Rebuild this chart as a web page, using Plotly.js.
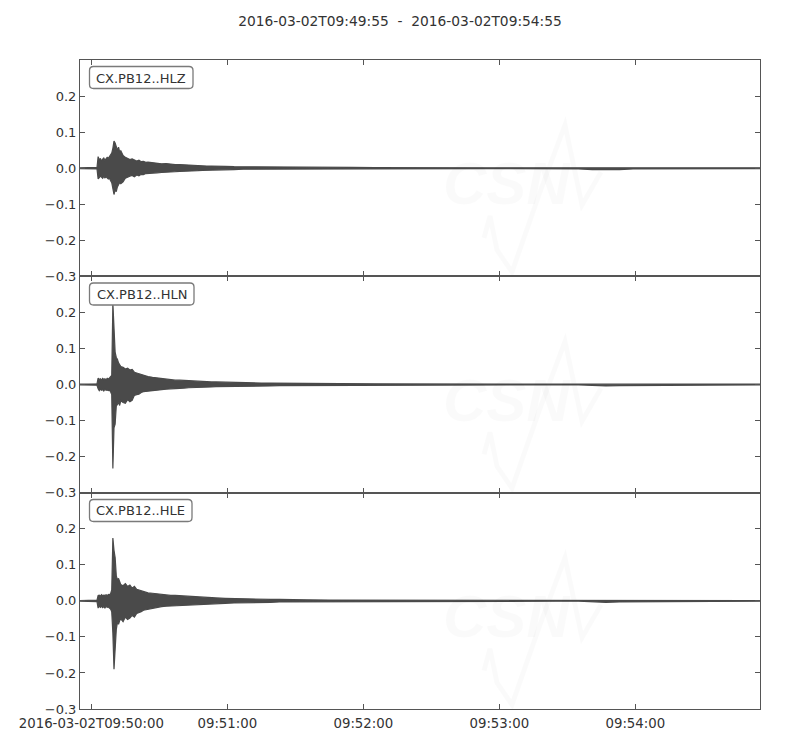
<!DOCTYPE html>
<html>
<head>
<meta charset="utf-8">
<script src="https://cdn.plot.ly/plotly-3.0.1.min.js"></script>
<style>html,body{margin:0;padding:0;background:#fff;}#chart{width:800px;height:750px;}</style>
</head>
<body>
<div id="chart"></div>
<script>
// Trace start time: 2016-03-02T09:49:55 (UTC); sample times in seconds from start
const startLabel = '2016-03-02T09:49:55';
const endLabel = '2016-03-02T09:54:55';
const stations = ['CX.PB12..HLZ', 'CX.PB12..HLN', 'CX.PB12..HLE'];

const secs = [0, 7.5, 8, 8.5, 9, 9.5, 10, 10.5, 11, 11.5, 12, 12.5, 13, 13.5, 14, 14.5, 15, 15.5, 16, 16.5, 17, 17.5, 18,
  19, 20, 21, 22, 23, 24, 25, 26, 27, 28, 29, 30,
  32, 34, 36, 38, 40, 42, 44, 46, 48, 50, 52, 54, 56, 58, 60,
  64, 68, 72, 76, 80, 84, 88, 92, 96, 100,
  110, 120, 130, 140, 150, 160, 170, 180, 190, 200, 210,
  220, 226, 232, 238, 244, 250, 260, 300];

// HLZ envelope (upper / lower peaks)
const hlzUp = [0.001, 0.002, 0.032, 0.022, 0.027, 0.020, 0.025, 0.028, 0.022, 0.026, 0.030, 0.027, 0.033, 0.038, 0.042, 0.055, 0.075, 0.070, 0.062, 0.050, 0.058, 0.045, 0.048,
  0.035, 0.030, 0.028, 0.024, 0.026, 0.022, 0.020, 0.022, 0.018, 0.019, 0.016, 0.017,
  0.015, 0.014, 0.012, 0.013, 0.011, 0.010, 0.010, 0.009, 0.008, 0.008, 0.007, 0.007, 0.006, 0.006, 0.005,
  0.005, 0.004, 0.004, 0.003, 0.003, 0.003, 0.003, 0.002, 0.002, 0.002,
  0.002, 0.002, 0.0015, 0.001, 0.001, 0.001, 0.001, 0.001, 0.001, 0.001, 0.001,
  0.001, 0.002, 0.002, 0.002, 0.001, 0.001, 0.001, 0.001];
const hlzLo = [-0.001, -0.002, -0.030, -0.026, -0.022, -0.025, -0.028, -0.022, -0.027, -0.024, -0.026, -0.030, -0.028, -0.035, -0.040, -0.050, -0.073, -0.060, -0.065, -0.052, -0.045, -0.040, -0.043,
  -0.038, -0.028, -0.026, -0.022, -0.020, -0.024, -0.019, -0.021, -0.017, -0.018, -0.015, -0.016,
  -0.014, -0.013, -0.012, -0.011, -0.010, -0.010, -0.009, -0.008, -0.008, -0.007, -0.007, -0.006, -0.006, -0.005, -0.005,
  -0.004, -0.004, -0.003, -0.003, -0.003, -0.003, -0.002, -0.002, -0.002, -0.002,
  -0.002, -0.0015, -0.001, -0.001, -0.001, -0.001, -0.001, -0.001, -0.001, -0.001, -0.001,
  -0.002, -0.004, -0.005, -0.004, -0.002, -0.001, -0.001, -0.001];

// HLN envelope
const hlnUp = [0.001, 0.002, 0.018, 0.014, 0.016, 0.012, 0.017, 0.014, 0.016, 0.013, 0.017, 0.015, 0.018, 0.022, 0.025, 0.225, 0.130, 0.090, 0.075, 0.070, 0.060, 0.055, 0.050,
  0.048, 0.043, 0.045, 0.040, 0.042, 0.034, 0.032, 0.030, 0.026, 0.025, 0.024, 0.022,
  0.020, 0.018, 0.017, 0.015, 0.014, 0.012, 0.012, 0.011, 0.010, 0.010, 0.009, 0.009, 0.008, 0.007, 0.007,
  0.006, 0.006, 0.005, 0.005, 0.004, 0.004, 0.004, 0.003, 0.003, 0.003,
  0.002, 0.002, 0.002, 0.0015, 0.001, 0.001, 0.001, 0.001, 0.001, 0.001, 0.001,
  0.001, 0.002, 0.002, 0.003, 0.002, 0.001, 0.001, 0.001];
const hlnLo = [-0.001, -0.002, -0.012, -0.017, -0.013, -0.016, -0.014, -0.018, -0.013, -0.016, -0.015, -0.017, -0.016, -0.020, -0.028, -0.233, -0.120, -0.110, -0.060, -0.055, -0.050, -0.058, -0.045,
  -0.050, -0.052, -0.042, -0.048, -0.044, -0.030, -0.028, -0.027, -0.022, -0.020, -0.019, -0.018,
  -0.017, -0.015, -0.014, -0.013, -0.012, -0.011, -0.010, -0.010, -0.009, -0.008, -0.008, -0.008, -0.007, -0.007, -0.006,
  -0.006, -0.005, -0.005, -0.004, -0.004, -0.004, -0.003, -0.003, -0.003, -0.003,
  -0.002, -0.002, -0.0015, -0.001, -0.001, -0.001, -0.001, -0.001, -0.001, -0.001, -0.001,
  -0.001, -0.002, -0.004, -0.003, -0.002, -0.001, -0.001, -0.001];

// HLE envelope
const hleUp = [0.001, 0.002, 0.015, 0.016, 0.013, 0.017, 0.014, 0.016, 0.015, 0.017, 0.014, 0.018, 0.017, 0.020, 0.030, 0.174, 0.140, 0.120, 0.070, 0.058, 0.062, 0.050, 0.045,
  0.042, 0.048, 0.040, 0.044, 0.035, 0.040, 0.032, 0.030, 0.028, 0.025, 0.024, 0.022,
  0.021, 0.019, 0.018, 0.016, 0.015, 0.015, 0.014, 0.013, 0.012, 0.011, 0.010, 0.010, 0.009, 0.009, 0.008,
  0.007, 0.006, 0.006, 0.005, 0.005, 0.004, 0.004, 0.003, 0.003, 0.003,
  0.002, 0.002, 0.002, 0.0015, 0.001, 0.001, 0.001, 0.001, 0.001, 0.001, 0.001,
  0.001, 0.002, 0.002, 0.003, 0.002, 0.001, 0.001, 0.001];
const hleLo = [-0.001, -0.002, -0.020, -0.014, -0.018, -0.015, -0.019, -0.016, -0.020, -0.015, -0.018, -0.017, -0.020, -0.023, -0.030, -0.090, -0.190, -0.155, -0.080, -0.060, -0.065, -0.055, -0.050,
  -0.058, -0.045, -0.052, -0.048, -0.040, -0.045, -0.035, -0.032, -0.030, -0.026, -0.024, -0.022,
  -0.020, -0.018, -0.016, -0.015, -0.014, -0.013, -0.013, -0.012, -0.011, -0.010, -0.010, -0.009, -0.009, -0.008, -0.008,
  -0.007, -0.006, -0.005, -0.005, -0.004, -0.004, -0.003, -0.003, -0.003, -0.002,
  -0.002, -0.002, -0.0015, -0.001, -0.001, -0.001, -0.001, -0.001, -0.001, -0.001, -0.001,
  -0.001, -0.002, -0.004, -0.003, -0.002, -0.001, -0.001, -0.001];

const tickSecs = [5, 65, 125, 185, 245];
const tickLabels = ['2016-03-02T09:50:00', '09:51:00', '09:52:00', '09:53:00', '09:54:00'];
const yTickVals = [-0.3, -0.2, -0.1, 0.0, 0.1, 0.2];
const yTickText = ['\u22120.3', '\u22120.2', '\u22120.1', '0.0', '0.1', '0.2'];

const base = Date.UTC(2016, 2, 2, 9, 49, 55);
const toMs = s => base + s * 1000;
const wave = '#4a4a4a';
const font = 'DejaVu Sans, sans-serif';

const env = [[hlzUp, hlzLo], [hlnUp, hlnLo], [hleUp, hleLo]];
const data = env.map((pair, i) => ({
  type: 'scatter', mode: 'lines',
  x: secs.concat(secs.slice().reverse()).map(toMs),
  y: pair[0].concat(pair[1].slice().reverse()),
  fill: 'toself', fillcolor: wave,
  line: {color: wave, width: 1.2},
  xaxis: i === 0 ? 'x' : 'x' + (i + 1),
  yaxis: i === 0 ? 'y' : 'y' + (i + 1),
  hoverinfo: 'skip', showlegend: false
}));

// pixel helpers for panel decorations (plot area 80..760 x 60..709)
const L = 80, R = 760, T = 60, B = 709;
const PH = (B - T) / 3;
const px = p => (p - L) / (R - L);
const py = p => (B - p) / (B - T);

function roundRect(x0, y0, x1, y1, r) {
  const P = (a, b) => px(a) + ',' + py(b);
  return 'M' + P(x0 + r, y0) + ' L' + P(x1 - r, y0) + ' Q' + P(x1, y0) + ' ' + P(x1, y0 + r) +
    ' L' + P(x1, y1 - r) + ' Q' + P(x1, y1) + ' ' + P(x1 - r, y1) +
    ' L' + P(x0 + r, y1) + ' Q' + P(x0, y1) + ' ' + P(x0, y1 - r) +
    ' L' + P(x0, y0 + r) + ' Q' + P(x0, y0) + ' ' + P(x0 + r, y0) + ' Z';
}

const shapes = [];
const annotations = [];
const boxes = [[89.5, 66.5, 193, 88.5], [89.5, 283, 194, 305], [89.5, 499.5, 192, 521.5]];
const wm = 'rgba(0,0,0,0.018)';
const wavePts = [[484, 238], [490, 216], [497, 250], [512, 272], [540, 192], [565, 125], [582, 205], [601, 172]];

for (let k = 0; k < 3; k++) {
  const dy = k * PH;
  // faint CSN watermark
  const path = wavePts.map((p, j) => (j ? 'L' : 'M') + px(p[0]) + ',' + py(p[1] + dy)).join(' ');
  shapes.push({type: 'path', xref: 'paper', yref: 'paper', path: path, layer: 'below',
    line: {color: wm, width: 5}});
  annotations.push({xref: 'paper', yref: 'paper', x: px(507), y: py(184 + dy), xanchor: 'center', yanchor: 'middle',
    text: 'CSN', showarrow: false, font: {family: 'Liberation Sans, sans-serif', size: 60, color: wm, weight: 'bold', style: 'italic'}});
  annotations.push({xref: 'paper', yref: 'paper', x: px(532), y: py(224 + dy), xanchor: 'left', yanchor: 'middle',
    text: 'CENTRO SISMOLÓGICO NACIONAL', showarrow: false, font: {family: 'Liberation Sans, sans-serif', size: 12.5, color: wm, style: 'italic'}});
  annotations.push({xref: 'paper', yref: 'paper', x: px(528), y: py(243 + dy), xanchor: 'left', yanchor: 'middle',
    text: 'UNIVERSIDAD DE CHILE', showarrow: false, font: {family: 'Liberation Sans, sans-serif', size: 12.5, color: wm, style: 'italic'}});
  // station label box
  const b = boxes[k];
  shapes.push({type: 'path', xref: 'paper', yref: 'paper', path: roundRect(b[0], b[1], b[2], b[3], 4),
    layer: 'above', fillcolor: '#ffffff', line: {color: '#7a7a7a', width: 1.3}});
  annotations.push({xref: 'paper', yref: 'paper', x: px((b[0] + b[2]) / 2), y: py((b[1] + b[3]) / 2 + 0.5),
    xanchor: 'center', yanchor: 'middle', text: stations[k], showarrow: false,
    font: {family: font, size: 13, color: '#333333'}});
}

const xBase = {
  type: 'date',
  range: [toMs(0), toMs(300)],
  tickmode: 'array', tickvals: tickSecs.map(toMs), ticktext: tickLabels,
  ticks: 'inside', ticklen: 5, tickwidth: 1, tickcolor: '#555',
  showline: true, linecolor: '#555', linewidth: 1, mirror: 'ticks',
  showgrid: false, zeroline: false,
  tickfont: {family: font, size: 13.3, color: '#333'}
};
const yBase = {
  range: [-0.3, 0.3],
  tickmode: 'array', tickvals: yTickVals, ticktext: yTickText,
  ticks: 'inside', ticklen: 5, tickwidth: 1, tickcolor: '#555',
  showline: true, linecolor: '#555', linewidth: 1, mirror: 'ticks',
  showgrid: false, zeroline: false,
  tickfont: {family: font, size: 13, color: '#333'}
};

const layout = {
  width: 800, height: 750,
  margin: {l: 80, r: 40, t: 60, b: 41},
  paper_bgcolor: '#ffffff', plot_bgcolor: '#ffffff',
  title: {text: startLabel + '  -  ' + endLabel, x: 0.5, xanchor: 'center', y: 1 - 21 / 750, yanchor: 'middle',
    font: {family: font, size: 13.8, color: '#333'}},
  xaxis: Object.assign({}, xBase, {anchor: 'y', showticklabels: false}),
  xaxis2: Object.assign({}, xBase, {anchor: 'y2', showticklabels: false, matches: 'x'}),
  xaxis3: Object.assign({}, xBase, {anchor: 'y3', showticklabels: true, matches: 'x', ticklabelstandoff: 2}),
  yaxis: Object.assign({}, yBase, {anchor: 'x', domain: [2 / 3, 1]}),
  yaxis2: Object.assign({}, yBase, {anchor: 'x2', domain: [1 / 3, 2 / 3]}),
  yaxis3: Object.assign({}, yBase, {anchor: 'x3', domain: [0, 1 / 3]}),
  shapes: shapes,
  annotations: annotations,
  showlegend: false
};

Plotly.newPlot('chart', data, layout, {displayModeBar: false, staticPlot: true});
</script>
</body>
</html>
